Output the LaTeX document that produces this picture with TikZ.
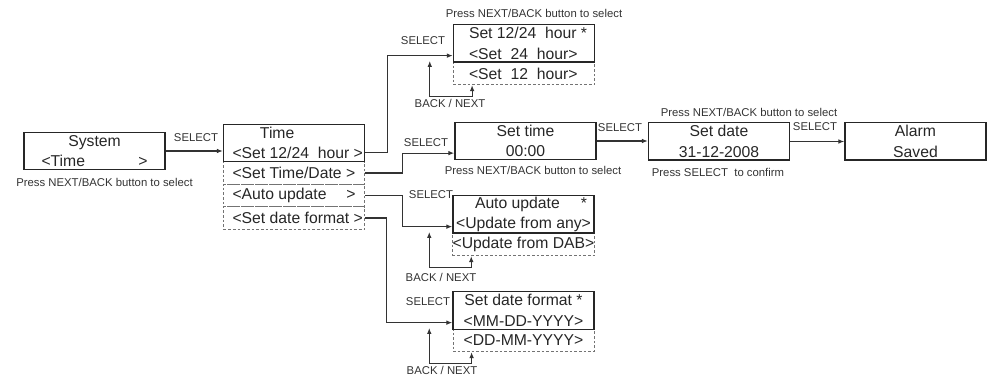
\documentclass[tikz,border=0pt]{standalone}
\usepackage{fontspec}
\setmainfont{Liberation Sans}
\usetikzlibrary{arrows.meta,positioning}

\newcommand{\boxfont}{\fontsize{11.8}{15.5}\selectfont}
\newcommand{\lblfont}{\fontsize{8.5}{10}\selectfont}

\begin{document}
\begin{tikzpicture}[x=0.75pt,y=-0.75pt,
		>={Latex[length=4.5pt,width=3.5pt]},
		menu/.style={draw=black!85,line width=1.1pt,minimum width=105.75pt,minimum height=28.1pt,
			inner sep=0pt,align=center,font=\boxfont,text=black!85},
		opt/.style={draw=black!55,dash pattern=on 2pt off 1.5pt,line width=0.6pt,minimum width=105.75pt,
			minimum height=16.9pt,inner sep=0pt,align=center,font=\boxfont,text=black!85},
		lbl/.style={font=\lblfont,text=black!80,inner sep=0pt},
		link/.style={draw=black!80,line width=0.8pt}]
		
		\useasboundingbox (0,0) rectangle (991,377);
		
		% --- System menu and Time menu ---
		\node[menu] (system) at (94.5,151) {System\\\makebox[79.5pt]{<Time\hfill>}};
		\node[lbl] (psys) at (104.5,182) {Press NEXT/BACK button to select};
		\node[lbl] (sel0) at (196,138) {SELECT};
		
		% option rows first, so the solid box is drawn on top
		\node[opt] (timedate) at (294,173) {\makebox[92.25pt][l]{<Set Time/Date >}};
		\node[opt] (autoupd) at (294,195.5) {\makebox[92.25pt]{<Auto update\hfill>}};
		\node[opt] (datefmt) at (294,218) {\makebox[92.25pt][l]{<Set date format >}};
		\node[menu] (time) at (294,143) {\makebox[92.25pt][l]{\hspace*{20.6pt}Time}\\
			\makebox[92.25pt][l]{<Set 12/24\ \ hour >}};
		
		% ======================================================
		% 12/24 hour
		% ======================================================
		\node[opt] (h12) at (524,73.5) {\makebox[82.5pt][l]{<Set\ \ 12\ \ hour>}};
		\node[menu] (hour) at (524,43.5) {\makebox[82.5pt][l]{Set 12/24\ \ hour *}\\
			\makebox[82.5pt][l]{<Set\ \ 24\ \ hour>}};
		\node[lbl] (ptop) at (534,13) {Press NEXT/BACK button to select};
		\node[lbl] (sel1) at (423,41) {SELECT};
		\node[lbl] (bn1) at (450,103) {BACK / NEXT};
		
		% ======================================================
		% time and date
		% ======================================================
		\node[menu] (settime) at (525.5,141) {Set time\\00:00};
		\node[menu] (setdate) at (719,141.5) {Set date\\31-12-2008};
		\node[menu] (alarm) at (915.5,141.5) {Alarm\\Saved};
		\node[lbl] (sel2) at (426,143) {SELECT};
		\node[lbl] (ptime) at (533,170) {Press NEXT/BACK button to select};
		\node[lbl] (sel3) at (620,128) {SELECT};
		\node[lbl] (pdate) at (749,112) {Press NEXT/BACK button to select};
		\node[lbl] (pconf) at (718,172) {Press SELECT\ \ to confirm};
		\node[lbl] (sel4) at (815,127) {SELECT};
		
		% ======================================================
		% auto update
		% ======================================================
		\node[opt] (dab) at (523.5,244.5) {<Update from DAB>};
		\node[menu] (autobox) at (523.5,214.5) {\makebox[95.25pt]{\hspace*{11.25pt}Auto update\hfill*}\\
			<Update from any>};
		\node[lbl] (sel5) at (431,195) {SELECT};
		\node[lbl] (bn2) at (441,277) {BACK / NEXT};
		
		% ======================================================
		% date format
		% ======================================================
		\node[opt] (ddmm) at (523.5,340.5) {<DD-MM-YYYY>};
		\node[menu] (fmtbox) at (523.5,310.5) {Set date format *\\<MM-DD-YYYY>};
		\node[lbl] (sel6) at (428,302) {SELECT};
		\node[lbl] (bn3) at (442,370) {BACK / NEXT};
		
		% --- SELECT connectors ---
		\draw[link,->] (system.east) -- (system.east -| time.west);
		\draw[link,->] ([yshift=7.5pt]time.south east) -- ++(22,0) |- ([yshift=5.5pt]hour.south west);
		\draw[link,->] (timedate.east) -- ++(38,0) |- ([yshift=5.5pt]settime.south west);
		\draw[link,->] (autoupd.east) -- ++(38,0) |- ([yshift=5.5pt]autobox.south west);
		\draw[link,->] (datefmt.east) -- ++(22,0) |- ([yshift=5.5pt]fmtbox.south west);
		\draw[link,->] (settime.east) -- (settime.east -| setdate.west);
		\draw[link,->] (setdate.east) -- (setdate.east -| alarm.west);
		
		% --- BACK / NEXT loops ---
		\draw[link,<->] ([shift={(-23,-2)}]hour.south west) |- ([shift={(19,11)}]h12.south west)
			-- ([xshift=14.25pt]h12.south west);
		\draw[link,<->] ([shift={(-23,-2)}]autobox.south west) |- ([shift={(19,11)}]dab.south west)
			-- ([xshift=14.25pt]dab.south west);
		\draw[link,<->] ([shift={(-23,-2)}]fmtbox.south west) |- ([shift={(19,11)}]ddmm.south west)
			-- ([xshift=14.25pt]ddmm.south west);
		
	\end{tikzpicture}
\end{document}
